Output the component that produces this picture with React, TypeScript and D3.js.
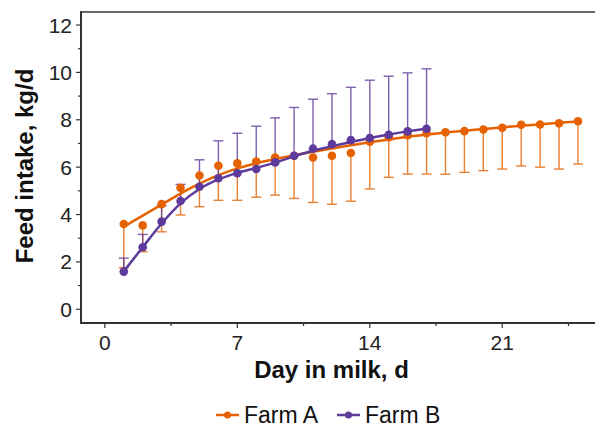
import React from "react";
import * as d3 from "d3";

const daysA = [1,2,3,4,5,6,7,8,9,10,11,12,13,14,15,16,17,18,19,20,21,22,23,24,25];
const meanA = [3.60,3.54,4.44,5.13,5.65,6.06,6.16,6.24,6.41,6.48,6.41,6.48,6.60,7.07,7.26,7.35,7.43,7.47,7.52,7.59,7.66,7.79,7.80,7.85,7.94];
const sdA = [1.84,1.11,1.17,1.15,1.32,1.46,1.56,1.51,1.59,1.80,1.90,2.05,2.04,1.99,1.69,1.64,1.72,1.77,1.74,1.74,1.74,1.74,1.80,1.93,1.81];
const fitA = [3.49,3.95,4.42,4.88,5.30,5.66,5.95,6.16,6.34,6.50,6.65,6.79,6.92,7.05,7.17,7.28,7.38,7.46,7.54,7.61,7.68,7.75,7.81,7.87,7.93];

const daysB = [1,2,3,4,5,6,7,8,9,10,11,12,13,14,15,16,17];
const meanB = [1.59,2.62,3.70,4.57,5.17,5.53,5.74,5.92,6.20,6.48,6.78,6.97,7.14,7.23,7.37,7.51,7.62];
const sdB = [0.57,0.54,0.67,0.70,1.14,1.58,1.69,1.81,1.88,2.04,2.09,2.13,2.23,2.44,2.47,2.47,2.53];
const fitB = [1.60,2.62,3.62,4.47,5.08,5.48,5.76,5.97,6.19,6.46,6.69,6.88,7.06,7.23,7.38,7.51,7.62];

const xTicks = [0,7,14,21];
const xMinor = [3.5,10.5,17.5,24.5];
const yTicks = [0,2,4,6,8,10,12];
const yMinor = [1,3,5,7,9,11];

const seriesNames = ["Farm A","Farm B"];
const ORANGE = "#E66100";
const PURPLE = "#5D3A9B";
const FONT = "'Liberation Sans', Arial, sans-serif";

export default function App() {
  const W = 595, H = 427;
  const left = 81, right = 595, top = 12, bottom = 323;
  const x = d3.scaleLinear().domain([-1.26, 25.9]).range([left, right]);
  const y = d3.scaleLinear().domain([-0.58, 12.55]).range([bottom, top]);

  const line = d3.line<[number, number]>()
    .x(d => x(d[0])).y(d => y(d[1])).curve(d3.curveMonotoneX);

  const fitAPts: [number, number][] = daysA.map((d, i) => [d, fitA[i]]);
  const fitBPts: [number, number][] = daysB.map((d, i) => [d, fitB[i]]);
  const cap = 5;

  return (
    <svg width={W} height={H} style={{ position: "absolute", left: 0, top: 0, background: "#fff" }}>
      {/* error bars A (downward) */}
      <g stroke={ORANGE} strokeWidth={1.4} opacity={0.8}>
        {daysA.map((d, i) => {
          const lo = y(meanA[i] - sdA[i]);
          return (
            <g key={"ea" + i}>
              <line x1={x(d)} x2={x(d)} y1={y(meanA[i])} y2={lo} />
              <line x1={x(d) - cap} x2={x(d) + cap} y1={lo} y2={lo} />
            </g>
          );
        })}
      </g>
      {/* error bars B (upward) */}
      <g stroke={PURPLE} strokeWidth={1.4} opacity={0.8}>
        {daysB.map((d, i) => {
          const hi = y(meanB[i] + sdB[i]);
          return (
            <g key={"eb" + i}>
              <line x1={x(d)} x2={x(d)} y1={y(meanB[i])} y2={hi} />
              <line x1={x(d) - cap} x2={x(d) + cap} y1={hi} y2={hi} />
            </g>
          );
        })}
      </g>
      <path d={line(fitAPts) || ""} fill="none" stroke={ORANGE} strokeWidth={2.5} />
      {daysA.map((d, i) => (
        <circle key={"ma" + i} cx={x(d)} cy={y(meanA[i])} r={4.3} fill={ORANGE} />
      ))}
      <path d={line(fitBPts) || ""} fill="none" stroke={PURPLE} strokeWidth={2.5} />
      {daysB.map((d, i) => (
        <circle key={"mb" + i} cx={x(d)} cy={y(meanB[i])} r={4.3} fill={PURPLE} />
      ))}

      {/* frame */}
      <line x1={left} x2={right} y1={top} y2={top} stroke="#666" strokeWidth={2} />
      <line x1={left} x2={left} y1={top - 1} y2={bottom + 1} stroke="#333" strokeWidth={2} />
      <line x1={left - 1} x2={right} y1={bottom} y2={bottom} stroke="#333" strokeWidth={2} />

      {/* y ticks */}
      {yTicks.map(t => (
        <g key={"yt" + t}>
          <line x1={left - 5} x2={left} y1={y(t)} y2={y(t)} stroke="#333" strokeWidth={1.2} />
          <text x={72} y={y(t)} dy="0.36em" textAnchor="end" fontFamily={FONT} fontSize={21} fill="#222">{t}</text>
        </g>
      ))}
      {yMinor.map(t => (
        <line key={"ym" + t} x1={left - 3} x2={left} y1={y(t)} y2={y(t)} stroke="#333" strokeWidth={1.2} />
      ))}
      {/* x ticks */}
      {xTicks.map(t => (
        <g key={"xt" + t}>
          <line x1={x(t)} x2={x(t)} y1={bottom} y2={bottom + 5} stroke="#333" strokeWidth={1.2} />
          <text x={x(t)} y={350} textAnchor="middle" fontFamily={FONT} fontSize={21} fill="#222">{t}</text>
        </g>
      ))}
      {xMinor.map(t => (
        <line key={"xm" + t} x1={x(t)} x2={x(t)} y1={bottom} y2={bottom + 3} stroke="#333" strokeWidth={1.2} />
      ))}

      {/* titles */}
      <text x={331.5} y={378} textAnchor="middle" fontFamily={FONT} fontSize={24} fontWeight="bold" fill="#111">Day in milk, d</text>
      <text transform="translate(33,166) rotate(-90)" textAnchor="middle" fontFamily={FONT} fontSize={24} fontWeight="bold" fill="#111">Feed intake, kg/d</text>

      {/* legend */}
      {seriesNames.map((name, i) => {
        const lx = i === 0 ? 216 : 337;
        const col = i === 0 ? ORANGE : PURPLE;
        return (
          <g key={name}>
            <line x1={lx} x2={lx + 23} y1={415} y2={415} stroke={col} strokeWidth={2.5} />
            <circle cx={lx + 11.5} cy={415} r={3.5} fill={col} />
            <text x={lx + 28} y={423} fontFamily={FONT} fontSize={23} fill="#111">{name}</text>
          </g>
        );
      })}
    </svg>
  );
}
